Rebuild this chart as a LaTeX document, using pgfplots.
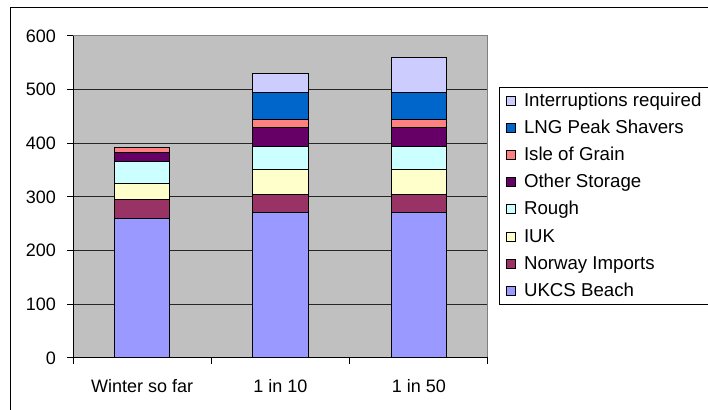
\documentclass[border=0pt]{standalone}
\usepackage{fontspec}
\setmainfont{Liberation Sans}
\usepackage{pgfplots}
\pgfplotsset{compat=1.18}
\definecolor{ukcs}{HTML}{9999FF}
\definecolor{norway}{HTML}{993366}
\definecolor{iuk}{HTML}{FFFFCC}
\definecolor{rough}{HTML}{CCFFFF}
\definecolor{other}{HTML}{660066}
\definecolor{grain}{HTML}{FF8080}
\definecolor{lng}{HTML}{0066CC}
\definecolor{interr}{HTML}{CCCCFF}
\definecolor{plotbg}{HTML}{C0C0C0}
\newcommand\legtxt[1]{\makebox[170pt][l]{\hspace{6pt}#1}}
\begin{document}
\fontsize{14}{16}\selectfont
\begin{tikzpicture}[x=0.75pt,y=0.75pt]
\useasboundingbox (0,0) rectangle (708,410);
\draw[black, line width=0.75pt] (10,-5) -- (10,402) -- (720,402);
\begin{axis}[
  at={(54.75pt,39pt)}, anchor=south west,
  width=311.25pt, height=241.5pt, scale only axis,
  ybar stacked, bar width=0.4,
  xmin=-0.5, xmax=2.5, ymin=0, ymax=600,
  xtick={-0.5,0.5,1.5,2.5}, xticklabels={},
  extra x ticks={0,1,2},
  extra x tick labels={Winter so far,1 in 10,1 in 50},
  extra x tick style={major tick length=0pt, grid=none},
  ytick={0,100,...,600},
  xtick pos=bottom, ytick pos=left,
  tick align=outside, major tick length=4.5pt,
  tick style={black, line width=0.75pt},
  ymajorgrids, grid style={black!85, line width=0.75pt},
  axis background/.style={fill=plotbg},
  axis line style={draw=gray, line width=0.75pt},
  /pgf/number format/assume math mode=true,
  ticklabel style={font=\fontsize{13.5}{16}\selectfont},
  xticklabel style={yshift=-11pt},
  yticklabel style={xshift=-3.5pt},
  every axis plot/.append style={draw=black, line width=0.75pt},
  reverse legend,
  legend cell align=left,
  legend image code/.code={\draw[#1, line width=0.6pt] (0pt,-3.2pt) rectangle (6.8pt,3.6pt);},
  legend style={at={(1.0265,0.842)}, anchor=north west, draw=black, line width=0.75pt,
    fill=white, font=\fontsize{14}{16}\selectfont,
    inner xsep=5pt, inner ysep=4pt, row sep=8.4pt,
    nodes={inner sep=0pt, text height=10pt, text depth=2pt}},
]
\addplot[fill=ukcs] coordinates {(0,260) (1,271) (2,271)};
\addplot[fill=norway] coordinates {(0,36) (1,34) (2,34)};
\addplot[fill=iuk] coordinates {(0,29) (1,47) (2,47)};
\addplot[fill=rough] coordinates {(0,42) (1,42) (2,42)};
\addplot[fill=other] coordinates {(0,16) (1,36) (2,36)};
\addplot[fill=grain] coordinates {(0,10) (1,14) (2,14)};
\addplot[fill=lng] coordinates {(0,0) (1,50) (2,50)};
\addplot[fill=interr] coordinates {(0,0) (1,37) (2,66)};
\legend{\legtxt{UKCS Beach},\legtxt{Norway Imports},\legtxt{IUK},\legtxt{Rough},\legtxt{Other Storage},\legtxt{Isle of Grain},\legtxt{LNG Peak Shavers},\legtxt{Interruptions required}}
\draw[black, line width=0.75pt] (rel axis cs:0,1) -- (rel axis cs:0,0) -- (rel axis cs:1,0);
\end{axis}
\end{tikzpicture}
\end{document}
